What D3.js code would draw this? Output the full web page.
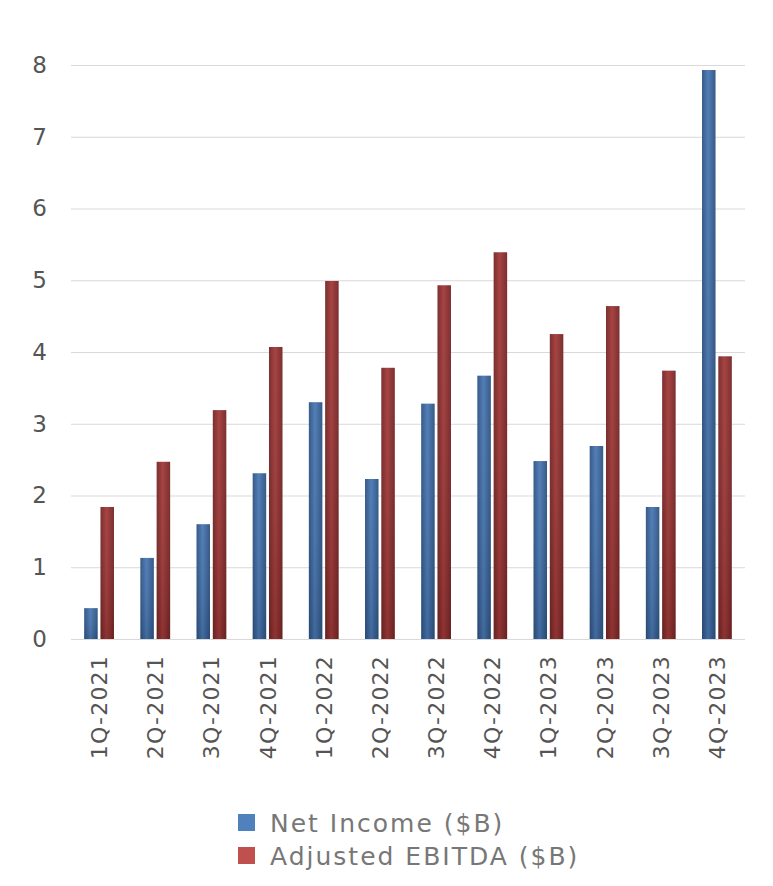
<!DOCTYPE html>
<html>
<head>
<meta charset="utf-8">
<script src="https://cdn.jsdelivr.net/npm/d3@7"></script>
<style>
  body { margin: 0; background: #fff; }
  text { font-family: "DejaVu Sans", sans-serif; }
</style>
</head>
<body>
<div id="chart"></div>
<script>
var quarters = ["1Q-2021","2Q-2021","3Q-2021","4Q-2021","1Q-2022","2Q-2022","3Q-2022","4Q-2022","1Q-2023","2Q-2023","3Q-2023","4Q-2023"]
var netIncome = [0.43, 1.13, 1.60, 2.31, 3.30, 2.23, 3.28, 3.67, 2.48, 2.69, 1.84, 7.93]
var adjEbitda = [1.84, 2.47, 3.19, 4.07, 4.99, 3.78, 4.93, 5.39, 4.25, 4.64, 3.74, 3.94]
var yTicks = [0,1,2,3,4,5,6,7,8]
var seriesNames = ["Net Income ($B)", "Adjusted EBITDA ($B)"]

var width = 773, height = 886
var svg = d3.select("#chart").append("svg")
  .attr("width", width)
  .attr("height", height)

// gradients to fake the glossy excel bars
var defs = svg.append("defs")
var colors = [
  {id: "gBlue", edge: "#2c5282", mid: "#4a78b3"},
  {id: "gRed", edge: "#742525", mid: "#a23a39"}
]
colors.forEach(function(c) {
  var g = defs.append("linearGradient").attr("id", c.id)
    .attr("x1", "0").attr("x2", "1").attr("y1", "0").attr("y2", "0")
  g.append("stop").attr("offset", "0%").attr("stop-color", c.edge)
  g.append("stop").attr("offset", "45%").attr("stop-color", c.mid)
  g.append("stop").attr("offset", "100%").attr("stop-color", c.edge)
})
var shade = defs.append("linearGradient").attr("id", "shade")
  .attr("x1", "0").attr("x2", "0").attr("y1", "0").attr("y2", "1")
shade.append("stop").attr("offset", "0%").attr("stop-color", "#fff").attr("stop-opacity", 0.05)
shade.append("stop").attr("offset", "100%").attr("stop-color", "#000").attr("stop-opacity", 0.12)

var x = d3.scaleBand().domain(quarters).range([71, 745])
var y = d3.scaleLinear().domain([0, 8]).range([639, 65])

// grid lines
svg.append("g").selectAll("line")
  .data(yTicks)
  .enter().append("line")
  .attr("x1", 71).attr("x2", 745)
  .attr("y1", function(d) { return y(d) + 0.5 })
  .attr("y2", function(d) { return y(d) + 0.5 })
  .style("stroke", "#d9d9d9")
  .style("stroke-width", 1)

// y axis
var yAxis = svg.append("g")
  .attr("transform", "translate(47,0)")
  .call(d3.axisLeft(y).tickValues(yTicks).tickSize(0).tickPadding(0))
yAxis.select(".domain").remove()
yAxis.selectAll("text")
  .style("font-family", "DejaVu Sans, sans-serif")
  .style("font-size", "23px")
  .style("fill", "#555")

// x axis
var xAxis = svg.append("g")
  .attr("transform", "translate(0,639)")
  .call(d3.axisBottom(x).tickSize(0))
xAxis.select(".domain").remove()
xAxis.selectAll("text")
  .style("font-family", "DejaVu Sans, sans-serif")
  .style("font-size", "22px")
  .style("letter-spacing", "1.2px")
  .style("fill", "#555")
  .attr("transform", "rotate(-90)")
  .attr("text-anchor", "end")
  .attr("x", -16)
  .attr("y", 0)
  .attr("dy", "0.36em")

var barW = 13.5, gap = 2.8
var offset = (x.bandwidth() - 2 * barW - gap) / 2

var data = quarters.map(function(q, i) {
  return {q: q, vals: [netIncome[i], adjEbitda[i]]}
})

var groups = svg.append("g").selectAll(".grp")
  .data(data)
  .enter().append("g")
  .attr("class", "grp")
  .attr("transform", function(d) { return "translate(" + (x(d.q) + offset) + ",0)" })

;[0, 1].forEach(function(s) {
  groups.append("rect")
    .attr("x", s * (barW + gap))
    .attr("y", function(d) { return y(d.vals[s]) })
    .attr("width", barW)
    .attr("height", function(d) { return y(0) - y(d.vals[s]) })
    .style("fill", "url(#" + colors[s].id + ")")
  groups.append("rect")
    .attr("x", s * (barW + gap))
    .attr("y", function(d) { return y(d.vals[s]) })
    .attr("width", barW)
    .attr("height", function(d) { return y(0) - y(d.vals[s]) })
    .style("fill", "url(#shade)")
})

// legend
var legendColors = ["#4f81bd", "#c0504d"]
var legend = svg.append("g").selectAll(".leg")
  .data(seriesNames)
  .enter().append("g")
  .attr("class", "leg")
  .attr("transform", function(d, i) { return "translate(238," + (814 + i * 33) + ")" })
legend.append("rect")
  .attr("width", 17).attr("height", 17)
  .style("fill", function(d, i) { return legendColors[i] })
legend.append("text")
  .attr("x", 32).attr("y", 9)
  .attr("dy", "0.36em")
  .style("font-size", "25px")
  .style("letter-spacing", "2px")
  .style("fill", "#777")
  .text(function(d) { return d })
</script>
</body>
</html>
